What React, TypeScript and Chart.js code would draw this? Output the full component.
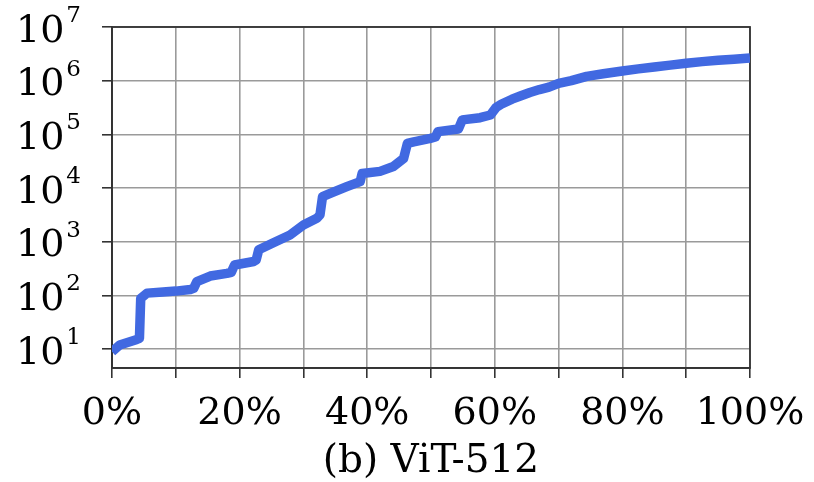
import { useEffect, useRef } from 'react';
import { Chart, registerables } from 'chart.js';

Chart.register(...registerables);

// Percentile of entries (x, %) and corresponding value (y, log scale)
const percentiles = [0, 1.2, 3.9, 4.3, 4.5, 5.5, 8, 10, 12.3, 12.8, 13.3, 15.4, 18, 18.7, 19.2, 22.2, 22.6, 23.0, 25.3, 27.9, 30, 32.1, 32.6, 33.0, 34.2, 36.8, 38.9, 39.2, 42, 44.1, 45.7, 46.3, 47.3, 49.9, 50.7, 51.1, 54.3, 54.9, 57.7, 59.3, 60.2, 61, 62.7, 64, 65.5, 67, 68.5, 70, 72, 74.4, 77, 80, 82.5, 85, 87.5, 90, 92.5, 95, 97.5, 100];
const counts = [8.9, 11.9, 15.1, 15.8, 88, 110, 115, 120, 129, 135, 180, 229, 257, 269, 367, 427, 457, 708, 955, 1334, 2042, 2722, 3162, 6918, 7943, 10593, 13183, 18621, 20417, 25119, 35481, 67608, 72444, 84140, 89125, 112202, 125893, 186209, 204174, 229087, 316228, 363078, 451856, 518800, 602560, 683900, 758578, 891251, 1000000, 1202264, 1348963, 1513561, 1659587, 1798871, 1949845, 2113489, 2264644, 2398833, 2511886, 2660725];

const xTickValues = [0, 10, 20, 30, 40, 50, 60, 70, 80, 90, 100];
const xTickLabels = ['0%', '', '20%', '', '40%', '', '60%', '', '80%', '', '100%'];
const yTickExponents = [1, 2, 3, 4, 5, 6, 7];
const yMin = 4.43;
const yMax = 1e7;
const captionText = '(b) ViT-512';

const FAMILY = '"DejaVu Serif", serif';

const frameAndLabels = {
  id: 'frameAndLabels',
  beforeDatasetsDraw(chart: any) {
    const { ctx, chartArea } = chart;
    ctx.save();
    ctx.strokeStyle = '#333';
    ctx.lineWidth = 1.8;
    ctx.strokeRect(chartArea.left, chartArea.top, chartArea.right - chartArea.left, chartArea.bottom - chartArea.top);
    ctx.restore();
  },
  afterDraw(chart: any) {
    const { ctx } = chart;
    const ys = chart.scales.y;
    ctx.save();
    ctx.fillStyle = '#000';
    ctx.textBaseline = 'alphabetic';
    ctx.textAlign = 'left';
    ys.ticks.forEach((t: any) => {
      const exp = Math.round(Math.log10(t.value));
      const py = ys.getPixelForValue(t.value);
      const base = py + 14.5;
      ctx.font = `38px ${FAMILY}`;
      ctx.fillText('10', 16, base);
      const w = ctx.measureText('10').width;
      ctx.font = `23px ${FAMILY}`;
      ctx.fillText(String(exp), 16 + w + 2, base - 19.5);
    });
    ctx.restore();
  },
};

export default function App() {
  const ref = useRef<HTMLCanvasElement | null>(null);
  useEffect(() => {
    if (!ref.current) return;
    const chart = new Chart(ref.current, {
      type: 'line',
      data: {
        datasets: [
          {
            data: percentiles.map((p, i) => ({ x: p, y: counts[i] })),
            borderColor: '#4169E1',
            borderWidth: 9.5,
            pointRadius: 0,
            tension: 0,
            borderJoinStyle: 'round',
            borderCapStyle: 'butt',
            clip: 0,
          } as any,
        ],
      },
      options: {
        animation: false,
        responsive: false,
        devicePixelRatio: 1,
        layout: { padding: { top: 27, right: 64, left: 0, bottom: 0 } },
        plugins: { legend: { display: false }, tooltip: { enabled: false }, title: { display: false } },
        scales: {
          x: {
            type: 'linear',
            min: 0,
            max: 100,
            afterFit: (s: any) => { s.height = 114; },
            afterBuildTicks: (s: any) => { s.ticks = xTickValues.map((v) => ({ value: v })); },
            ticks: {
              autoSkip: false,
              maxRotation: 0,
              padding: 3,
              color: '#000',
              font: { family: FAMILY, size: 38, lineHeight: 1.726 },
              callback: (_v: any, i: number) => xTickLabels[i],
            },
            grid: { color: '#9a9a9a', lineWidth: 1.6, tickLength: 10, tickColor: '#333', tickWidth: 1.6 },
            border: { display: true, color: '#333', width: 1.8 },
            title: {
              display: true,
              text: captionText,
              color: '#000',
              font: { family: FAMILY, size: 39, lineHeight: 1 },
              padding: { top: 0, bottom: 1 },
            },
          },
          y: {
            type: 'logarithmic',
            min: yMin,
            max: yMax,
            afterFit: (s: any) => { s.width = 112; },
            afterBuildTicks: (s: any) => { s.ticks = yTickExponents.map((e) => ({ value: Math.pow(10, e) })); },
            ticks: { callback: () => '', padding: 0 },
            grid: { color: '#9a9a9a', lineWidth: 1.6, tickLength: 10, tickColor: '#333', tickWidth: 1.6 },
            border: { display: true, color: '#333', width: 1.8 },
          },
        },
      },
      plugins: [frameAndLabels],
    } as any);
    return () => chart.destroy();
  }, []);
  return (
    <div style={{ position: 'absolute', left: 0, top: 0, width: 814, height: 482 }}>
      <canvas ref={ref} width={814} height={482} style={{ width: 814, height: 482, display: 'block' }} />
    </div>
  );
}
